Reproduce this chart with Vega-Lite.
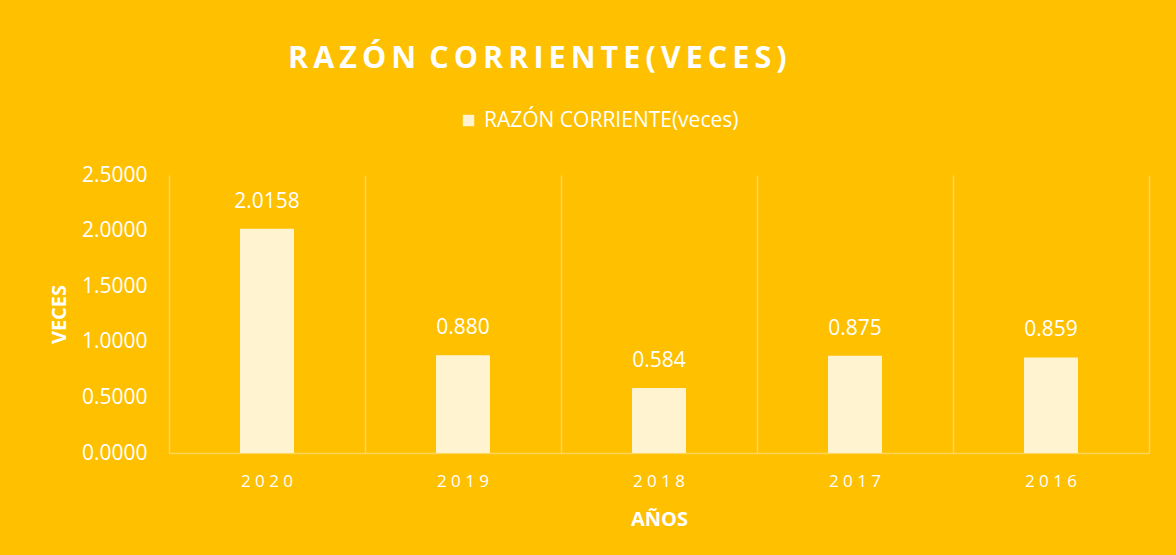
{
  "$schema": "https://vega.github.io/schema/vega-lite/v6.json",
  "width": 980,
  "height": 278,
  "autosize": {"type": "none"},
  "padding": {"left": 169, "top": 175, "right": 27, "bottom": 102},
  "background": "#FFC000",
  "config": {
    "view": {"stroke": null},
    "font": "Open Sans"
  },
  "title": {
    "text": "R\u2009A\u2009Z\u2009Ó\u2009N \u2009C\u2009O\u2009R\u2009R\u2009I\u2009E\u2009N\u2009T\u2009E\u2009(\u2009V\u2009E\u2009C\u2009E\u2009S\u2009)",
    "anchor": "start",
    "frame": "group",
    "dx": 119,
    "offset": 36,
    "font": "Open Sans",
    "fontSize": 30.5,
    "fontWeight": "bold",
    "color": "#FFFFFF"
  },
  "data": {
    "values": [
      {"anio": "2020", "valor": 2.0158, "etiqueta": "2.0158"},
      {"anio": "2019", "valor": 0.880, "etiqueta": "0.880"},
      {"anio": "2018", "valor": 0.584, "etiqueta": "0.584"},
      {"anio": "2017", "valor": 0.875, "etiqueta": "0.875"},
      {"anio": "2016", "valor": 0.859, "etiqueta": "0.859"}
    ]
  },
  "encoding": {
    "x": {
      "field": "anio",
      "type": "nominal",
      "sort": null,
      "scale": {"paddingInner": 0, "paddingOuter": 0},
      "axis": {
        "title": "AÑOS",
        "titleFont": "Open Sans",
        "titleFontSize": 20,
        "titleFontWeight": "bold",
        "titleColor": "#FFFFFF",
        "titlePadding": 20,
        "labelAngle": 0,
        "labelFont": "Open Sans",
        "labelFontSize": 17,
        "labelColor": "#FFFFFF",
        "labelPadding": 20,
        "labelExpr": "join(split(datum.label, ''), ' ')",
        "ticks": false,
        "domain": true,
        "domainColor": "#FFD45A",
        "domainWidth": 1.5,
        "grid": true,
        "bandPosition": 0,
        "gridColor": "#FFD45A",
        "gridWidth": 1.5
      }
    },
    "y": {
      "field": "valor",
      "type": "quantitative",
      "scale": {"domain": [0, 2.5], "nice": false},
      "axis": {
        "title": "VECES",
        "titleFont": "Open Sans",
        "titleFontSize": 20,
        "titleFontWeight": "bold",
        "titleColor": "#FFFFFF",
        "titlePadding": 12,
        "values": [0, 0.5, 1, 1.5, 2, 2.5],
        "format": ".4f",
        "labelFont": "Open Sans",
        "labelFontSize": 21,
        "labelColor": "#FFFFFF",
        "labelPadding": 22,
        "ticks": false,
        "domain": false,
        "grid": false
      }
    }
  },
  "layer": [
    {
      "mark": {"type": "bar", "width": 54},
      "encoding": {
        "fill": {
          "datum": "RAZÓN CORRIENTE(veces)",
          "scale": {"range": ["#FFF3D0"]},
          "legend": {
            "title": null,
            "orient": "none",
            "legendX": 289,
            "legendY": -65,
            "symbolType": "square",
            "symbolSize": 130,
            "symbolStrokeWidth": 0,
            "labelFont": "Open Sans",
            "labelFontSize": 21,
            "labelColor": "#FFFFFF",
            "labelLimit": 500,
            "labelOffset": 5
          }
        }
      }
    },
    {
      "mark": {"type": "text", "dy": -27, "font": "Open Sans", "fontSize": 21, "color": "#FFFFFF", "baseline": "middle"},
      "encoding": {
        "text": {"field": "etiqueta"},
        "y": {
          "field": "valor",
          "type": "quantitative",
          "axis": {
            "orient": "right",
            "title": null,
            "labels": false,
            "ticks": false,
            "grid": false,
            "domain": true,
            "domainColor": "#FFD45A",
            "domainWidth": 1.5
          }
        }
      }
    }
  ],
  "resolve": {"axis": {"y": "independent"}}
}
